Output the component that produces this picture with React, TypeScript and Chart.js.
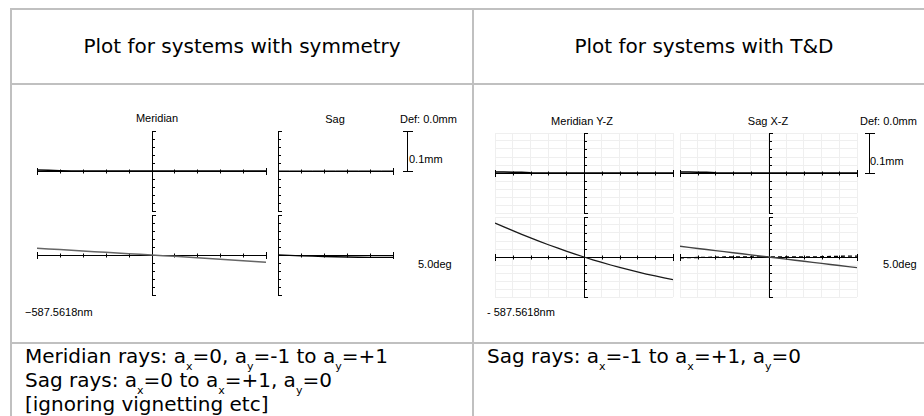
import React, { useEffect, useRef } from "react";
import { Chart, registerables } from "chart.js";

Chart.register(...registerables);

// Normalised pupil coordinates (a_y for meridian fans, a_x for sag fans)
const pupilFull = [-1, -0.9, -0.8, -0.7, -0.6, -0.5, -0.4, -0.3, -0.2, -0.1, 0, 0.1, 0.2, 0.3, 0.4, 0.5, 0.6, 0.7, 0.8, 0.9, 1];
const pupilHalf = [0, 0.1, 0.2, 0.3, 0.4, 0.5, 0.6, 0.7, 0.8, 0.9, 1];

// Ray aberration in tick units (5 ticks = 0.1 mm)
// System with symmetry – on-axis field (top) and 5.0deg field (bottom)
const symMeridianTop = [0.12, 0.1, 0.04, 0, 0, 0, 0, 0, 0, 0, 0, 0, 0, 0, 0, 0, 0, 0, 0, 0, 0];
const symMeridianBottom = [0.84, 0.76, 0.68, 0.6, 0.51, 0.42, 0.33, 0.25, 0.17, 0.08, 0, -0.08, -0.17, -0.26, -0.35, -0.44, -0.53, -0.62, -0.72, -0.81, -0.91];
const symSagTop = [0, 0, 0, 0, 0, 0, 0, 0, 0, 0, 0];
const symSagBottom = [0, -0.05, -0.1, -0.15, -0.2, -0.22, -0.25, -0.28, -0.3, -0.3, -0.3];

// System with tilts & decentres
const tdMeridianTop = [0.12, 0.12, 0.1, 0.08, 0.02, 0, 0, 0, 0, 0, 0, 0, 0, 0, 0, 0, 0, 0, 0, 0, 0];
const tdMeridianBottom = [4.25, 3.76, 3.29, 2.83, 2.38, 1.95, 1.53, 1.13, 0.74, 0.36, 0, -0.35, -0.68, -1.0, -1.3, -1.59, -1.87, -2.13, -2.37, -2.61, -2.83];
const tdSagTop = [0.12, 0.12, 0.1, 0.08, 0.02, 0, 0, 0, 0, 0, 0, 0, 0, 0, 0, 0, 0, 0, 0, 0, 0];
const tdSagBottom = [1.34, 1.2, 1.07, 0.94, 0.8, 0.67, 0.54, 0.4, 0.27, 0.13, 0, -0.13, -0.27, -0.4, -0.53, -0.67, -0.8, -0.94, -1.07, -1.2, -1.33];
const tdSagBottomAlt = [-0.1, -0.08, -0.06, -0.04, -0.02, 0, 0, 0, 0, 0, 0, 0, 0, 0, 0, 0, 0.03, 0.06, 0.09, 0.12, 0.12];

const yLimit = 5; // ±5 ticks
const scaleBarTicks = 5; // 0.1 mm

type Series = { data: number[]; color: string; width: number; dash?: number[] };
type PlotProps = {
  left: number;
  top: number;
  width: number;
  height: number;
  xs: number[];
  xMin: number;
  xMax: number;
  series: Series[];
  grid?: boolean;
  scaleBarX?: number;
};

function FanPlot(p: PlotProps) {
  const ref = useRef<HTMLCanvasElement>(null);
  const padL = 6, padT = 6, padB = 6;
  const padR = p.scaleBarX ? p.scaleBarX - (p.left + p.width) + 8 : 6;
  const cw = p.width + padL + padR;
  const ch = p.height + padT + padB;

  useEffect(() => {
    if (!ref.current) return;
    const fanAxes = {
      id: "fanAxes",
      beforeDatasetsDraw(chart: any) {
        const ctx = chart.ctx;
        const xs = chart.scales.x;
        const ys = chart.scales.y;
        const px = (v: number) => Math.round(xs.getPixelForValue(v)) + 0.5;
        const py = (v: number) => Math.round(ys.getPixelForValue(v)) + 0.5;
        ctx.save();
        ctx.strokeStyle = "#000";
        ctx.lineWidth = 1;
        ctx.beginPath();
        const y0 = py(0);
        const xl = px(p.xMin);
        const xr = px(p.xMax);
        ctx.moveTo(xl - 0.5, y0);
        ctx.lineTo(xr + 0.5, y0);
        for (const t of xs.ticks) {
          const x = px(t.value);
          const isEnd = Math.abs(t.value - p.xMin) < 1e-6 || Math.abs(t.value - p.xMax) < 1e-6;
          const h = isEnd ? 3.5 : 2;
          ctx.moveTo(x, y0 - h);
          ctx.lineTo(x, y0 + h);
        }
        const x0 = px(0);
        const yt = py(yLimit);
        const yb = py(-yLimit);
        ctx.moveTo(x0, yt);
        ctx.lineTo(x0, yb);
        for (const t of ys.ticks) {
          const y = py(t.value);
          const isEnd = Math.abs(Math.abs(t.value) - yLimit) < 1e-6;
          ctx.moveTo(x0 - 0.5, y);
          ctx.lineTo(x0 + (isEnd ? 3.5 : 2.5), y);
        }
        if (p.scaleBarX) {
          const bx = Math.round(p.scaleBarX - (p.left - padL)) + 0.5;
          const b0 = py(0);
          const b1 = py(scaleBarTicks);
          ctx.moveTo(bx, b0);
          ctx.lineTo(bx, b1);
          ctx.moveTo(bx - 4.5, b0);
          ctx.lineTo(bx + 5.5, b0);
          ctx.moveTo(bx - 4.5, b1);
          ctx.lineTo(bx + 5.5, b1);
        }
        ctx.stroke();
        ctx.restore();
      },
    };

    const gridOpts = {
      display: !!p.grid,
      color: "#efefef",
      lineWidth: 1,
      drawTicks: false,
    };

    const chart = new Chart(ref.current, {
      type: "scatter",
      data: {
        datasets: p.series.map((s) => ({
          data: p.xs.map((x, i) => ({ x, y: s.data[i] })),
          showLine: true,
          borderColor: s.color,
          backgroundColor: s.color,
          borderWidth: s.width,
          borderDash: s.dash || [],
          pointRadius: 0,
          pointHoverRadius: 0,
          fill: false,
          tension: 0,
        })),
      },
      options: {
        responsive: false,
        animation: false,
        events: [],
        layout: { padding: { left: padL, right: padR, top: padT, bottom: padB } },
        plugins: { legend: { display: false }, tooltip: { enabled: false } },
        scales: {
          x: {
            type: "linear",
            min: p.xMin,
            max: p.xMax,
            display: !!p.grid,
            ticks: { display: false, stepSize: 0.2 },
            grid: gridOpts,
            border: { display: false },
          },
          y: {
            type: "linear",
            min: -yLimit,
            max: yLimit,
            display: !!p.grid,
            ticks: { display: false, stepSize: 1 },
            grid: gridOpts,
            border: { display: false },
          },
        },
      },
      plugins: [fanAxes],
    } as any);
    return () => chart.destroy();
  }, []);

  return (
    <canvas
      ref={ref}
      width={cw}
      height={ch}
      style={{ position: "absolute", left: p.left - padL, top: p.top - padT, width: cw, height: ch }}
    />
  );
}

const labelFont = "'Liberation Sans', Arial, sans-serif";
const bodyFont = "'DejaVu Sans', Verdana, sans-serif";

function Label({ x, y, text, center }: { x: number; y: number; text: string; center?: boolean }) {
  return (
    <div
      style={{
        position: "absolute",
        left: x,
        top: y - 7,
        lineHeight: "14px",
        fontSize: 11,
        fontFamily: labelFont,
        color: "#000",
        whiteSpace: "nowrap",
        transform: center ? "translateX(-50%)" : undefined,
      }}
    >
      {text}
    </div>
  );
}

const borderColor = "#c0c0c0";
const sub: React.CSSProperties = { fontSize: 11, verticalAlign: "-7px", lineHeight: 0 };

export default function App() {
  const line = (l: number, t: number, w: number, h: number) => (
    <div style={{ position: "absolute", left: l, top: t, width: w, height: h, background: borderColor }} />
  );
  return (
    <div style={{ position: "absolute", left: 0, top: 0, width: 924, height: 416, overflow: "hidden", background: "#fff" }}>
      {line(10, 8, 930, 2)}
      {line(10, 8, 2, 420)}
      {line(10, 83, 930, 2)}
      {line(10, 342, 930, 2)}
      {line(472, 8, 2, 420)}

      <div style={{ position: "absolute", left: 12, top: 34, width: 460, textAlign: "center", fontFamily: bodyFont, fontSize: 20, lineHeight: "24px", whiteSpace: "nowrap" }}>
        Plot for systems with symmetry
      </div>
      <div style={{ position: "absolute", left: 474, top: 34, width: 460, textAlign: "center", fontFamily: bodyFont, fontSize: 20, lineHeight: "24px", whiteSpace: "nowrap" }}>
        Plot for systems with T&amp;D
      </div>

      {/* Left column: symmetric system */}
      <Label x={157} y={118} text="Meridian" center />
      <Label x={335} y={119} text="Sag" center />
      <Label x={400} y={119} text="Def: 0.0mm" />
      <Label x={409} y={159} text="0.1mm" />
      <Label x={418} y={264} text="5.0deg" />
      <Label x={25} y={312} text="−587.5618nm" />
      <FanPlot left={37} top={131} width={229} height={80} xs={pupilFull} xMin={-1} xMax={1}
        series={[{ data: symMeridianTop, color: "#000", width: 1.6 }]} />
      <FanPlot left={37} top={215} width={229} height={80} xs={pupilFull} xMin={-1} xMax={1}
        series={[{ data: symMeridianBottom, color: "#666", width: 1.5 }]} />
      <FanPlot left={278} top={131} width={115} height={80} xs={pupilHalf} xMin={0} xMax={1} scaleBarX={407}
        series={[{ data: symSagTop, color: "#000", width: 1 }]} />
      <FanPlot left={278} top={215} width={115} height={80} xs={pupilHalf} xMin={0} xMax={1}
        series={[{ data: symSagBottom, color: "#000", width: 1.3 }]} />

      {/* Right column: tilted & decentred system */}
      <Label x={582} y={121} text="Meridian Y-Z" center />
      <Label x={768} y={121} text="Sag X-Z" center />
      <Label x={860} y={121} text="Def: 0.0mm" />
      <Label x={870} y={161} text="0.1mm" />
      <Label x={883} y={264} text="5.0deg" />
      <Label x={487} y={312} text="- 587.5618nm" />
      <FanPlot left={495} top={133} width={178} height={80} xs={pupilFull} xMin={-1} xMax={1} grid
        series={[{ data: tdMeridianTop, color: "#000", width: 1.6 }]} />
      <FanPlot left={495} top={217} width={178} height={80} xs={pupilFull} xMin={-1} xMax={1} grid
        series={[{ data: tdMeridianBottom, color: "#1a1a1a", width: 1.3 }]} />
      <FanPlot left={680} top={133} width={177} height={80} xs={pupilFull} xMin={-1} xMax={1} grid scaleBarX={869}
        series={[{ data: tdSagTop, color: "#000", width: 1.6 }]} />
      <FanPlot left={680} top={217} width={177} height={80} xs={pupilFull} xMin={-1} xMax={1} grid
        series={[
          { data: tdSagBottom, color: "#444", width: 1.4 },
          { data: tdSagBottomAlt, color: "#000", width: 1.3, dash: [4, 3] },
        ]} />

      <div style={{ position: "absolute", left: 25, top: 344, fontFamily: bodyFont, fontSize: 20, lineHeight: "24px", whiteSpace: "nowrap" }}>
        <div>
          Meridian rays: a<span style={sub}>x</span>=0, a<span style={sub}>y</span>=-1 to a<span style={sub}>y</span>=+1
        </div>
        <div>
          Sag rays: a<span style={sub}>x</span>=0 to a<span style={sub}>x</span>=+1, a<span style={sub}>y</span>=0
        </div>
        <div>[ignoring vignetting etc]</div>
      </div>
      <div style={{ position: "absolute", left: 487, top: 344, fontFamily: bodyFont, fontSize: 20, lineHeight: "24px", whiteSpace: "nowrap" }}>
        Sag rays: a<span style={sub}>x</span>=-1 to a<span style={sub}>x</span>=+1, a<span style={sub}>y</span>=0
      </div>
    </div>
  );
}
